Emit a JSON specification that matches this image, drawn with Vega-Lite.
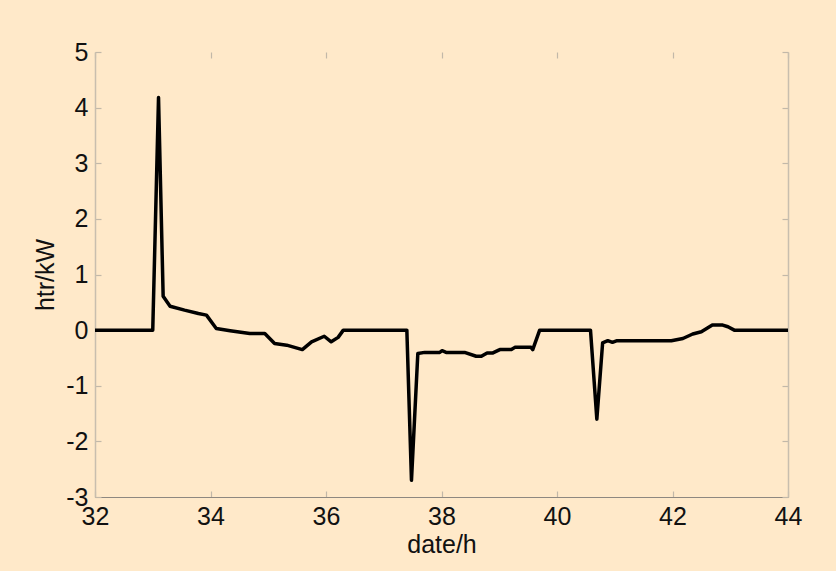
{
  "$schema": "https://vega.github.io/schema/vega-lite/v6.json",
  "width": 693,
  "height": 445,
  "autosize": "none",
  "padding": {"left": 95, "top": 52, "right": 48, "bottom": 74},
  "background": "#FFE9C9",
  "config": {
    "view": {"stroke": null, "fill": "#FFE9C9"},
    "axis": {
      "labelFont": "Liberation Sans",
      "titleFont": "Liberation Sans",
      "labelFontSize": 25,
      "titleFontSize": 25,
      "titleFontWeight": "normal",
      "labelColor": "#111111",
      "titleColor": "#111111",
      "grid": false,
      "domainColor": "#A8A298",
      "tickColor": "#C2B8A8",
      "tickSize": -6,
      "tickWidth": 1.2,
      "labelFlush": false
    }
  },
  "data": {
    "values": [
      {"t": 32, "h": 0},
      {"t": 33.0, "h": 0},
      {"t": 33.1, "h": 4.18},
      {"t": 33.18, "h": 0.61},
      {"t": 33.3, "h": 0.43},
      {"t": 33.55, "h": 0.36},
      {"t": 33.79, "h": 0.3},
      {"t": 33.93, "h": 0.27},
      {"t": 34.1, "h": 0.03},
      {"t": 34.34, "h": -0.01},
      {"t": 34.68, "h": -0.06},
      {"t": 34.94, "h": -0.06},
      {"t": 35.11, "h": -0.24},
      {"t": 35.32, "h": -0.27},
      {"t": 35.59, "h": -0.35},
      {"t": 35.75, "h": -0.21},
      {"t": 35.97, "h": -0.11},
      {"t": 36.09, "h": -0.21},
      {"t": 36.21, "h": -0.13},
      {"t": 36.3, "h": 0},
      {"t": 37.4, "h": 0},
      {"t": 37.48, "h": -2.7},
      {"t": 37.59, "h": -0.42},
      {"t": 37.71, "h": -0.4},
      {"t": 37.97, "h": -0.4},
      {"t": 38.01, "h": -0.37},
      {"t": 38.08, "h": -0.4},
      {"t": 38.4, "h": -0.4},
      {"t": 38.6, "h": -0.47},
      {"t": 38.69, "h": -0.47},
      {"t": 38.79, "h": -0.41},
      {"t": 38.89, "h": -0.41},
      {"t": 39.01, "h": -0.35},
      {"t": 39.21, "h": -0.35},
      {"t": 39.27, "h": -0.31},
      {"t": 39.55, "h": -0.31},
      {"t": 39.58, "h": -0.35},
      {"t": 39.7, "h": 0},
      {"t": 40.58, "h": 0},
      {"t": 40.69, "h": -1.6},
      {"t": 40.79, "h": -0.23},
      {"t": 40.88, "h": -0.19},
      {"t": 40.96, "h": -0.22},
      {"t": 41.04, "h": -0.19},
      {"t": 41.98, "h": -0.19},
      {"t": 42.18, "h": -0.15},
      {"t": 42.35, "h": -0.07},
      {"t": 42.5, "h": -0.03},
      {"t": 42.69, "h": 0.09},
      {"t": 42.87, "h": 0.09},
      {"t": 42.96, "h": 0.06},
      {"t": 43.07, "h": 0},
      {"t": 44, "h": 0}
    ]
  },
  "layer": [
    {
      "mark": {"type": "line", "color": "#000000", "strokeWidth": 3.5, "opacity": 0},
      "encoding": {
        "x": {"field": "t", "type": "quantitative", "scale": {"domain": [32, 44], "nice": false, "zero": false},
          "axis": {"orient": "top", "labels": false, "domain": false, "title": null, "values": [32, 34, 36, 38, 40, 42, 44]}},
        "y": {"field": "h", "type": "quantitative", "scale": {"domain": [-3, 5], "nice": false, "zero": false},
          "axis": {"orient": "right", "labels": false, "title": null, "values": [-3, -2, -1, 0, 1, 2, 3, 4, 5], "domainColor": "#C8BEAE", "domainWidth": 1.5}}
      }
    },
    {
      "mark": {"type": "line", "color": "#000000", "strokeWidth": 3.5, "strokeJoin": "round"},
      "encoding": {
        "x": {"field": "t", "type": "quantitative", "title": "date/h",
          "axis": {"orient": "bottom", "values": [32, 34, 36, 38, 40, 42, 44], "labelExpr": "datum.value + ''", "labelPadding": 13, "titlePadding": 3, "domainColor": "#8E8880"}},
        "y": {"field": "h", "type": "quantitative", "title": "htr/kW",
          "axis": {"orient": "left", "values": [-3, -2, -1, 0, 1, 2, 3, 4, 5], "labelExpr": "datum.value + ''", "labelPadding": 13, "titlePadding": 7, "domainColor": "#C8BEAE", "domainWidth": 1.5}}
      }
    }
  ],
  "resolve": {"axis": {"x": "independent", "y": "independent"}}
}
